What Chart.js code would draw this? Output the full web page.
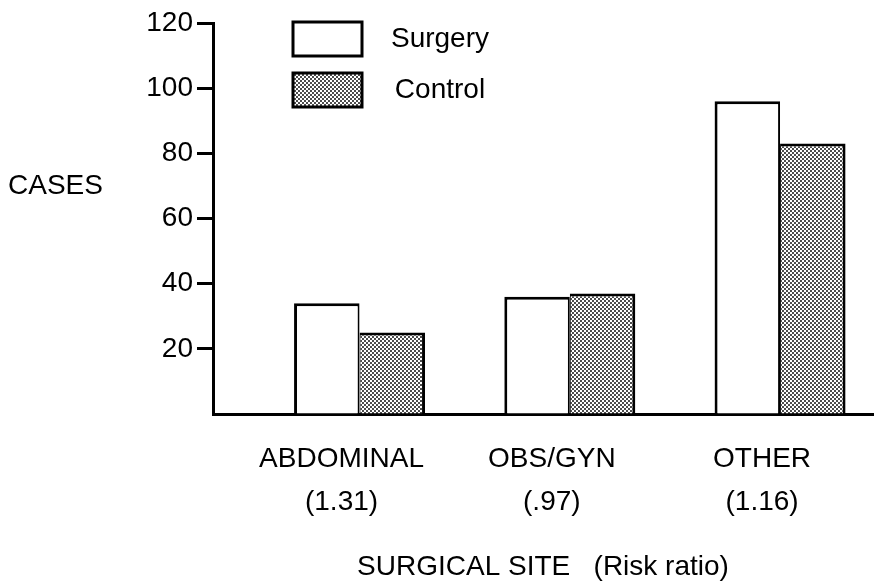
<!DOCTYPE html>
<html>
<head>
<meta charset="utf-8">
<script src="https://cdn.jsdelivr.net/npm/chart.js@4/dist/chart.umd.min.js"></script>
<style>html,body{margin:0;padding:0;background:#fff;}canvas{display:block;}</style>
</head>
<body>
<canvas id="c" width="874" height="586"></canvas>
<script>
// ---- data ----
const CATEGORIES = ['ABDOMINAL', 'OBS/GYN', 'OTHER'];
const RISK_RATIOS = ['(1.31)', '(.97)', '(1.16)'];
const SERIES_NAMES = ['Surgery', 'Control'];
const SURGERY = [34, 36, 96];
const CONTROL = [25, 37, 83];
const Y_TICKS = [0, 20, 40, 60, 80, 100, 120];
const Y_TITLE = 'CASES';
const X_TITLE = 'SURGICAL SITE   (Risk ratio)';

const FONT = "'Liberation Sans', Arial, Helvetica, sans-serif";

const ctx = document.getElementById('c').getContext('2d');
const DOTS = ctx.createPattern((function(){
  const c = document.createElement('canvas');
  c.width = 4; c.height = 4;
  const g = c.getContext('2d');
  g.fillStyle = '#fff'; g.fillRect(0, 0, 4, 4);
  g.fillStyle = '#000';
  g.beginPath(); g.arc(1, 1, 0.95, 0, Math.PI * 2); g.fill();
  g.beginPath(); g.arc(3, 3, 0.95, 0, Math.PI * 2); g.fill();
  return c;
})(), 'repeat');

Chart.defaults.color = '#000';
Chart.defaults.font.family = FONT;

const legendPlacer = {
  id: 'legendPlacer',
  afterLayout(chart) {
    const lg = chart.legend, ca = chart.chartArea;
    const pad = lg.options.labels.padding;
    lg.left = ca.left + 80 - pad;
    lg.top = ca.top - 1 - pad;
    lg.right = ca.left + 291;
    lg.bottom = chart.height;
    lg.width = lg.right - lg.left;
    lg.height = lg.bottom - lg.top;
  }
};

const yTitle = {
  id: 'yTitle',
  afterDraw(chart) {
    const c = chart.ctx;
    c.save();
    c.font = '28px ' + FONT;
    c.fillStyle = '#000';
    c.textBaseline = 'middle';
    c.textAlign = 'left';
    c.fillText(Y_TITLE, 8, chart.scales.y.getPixelForValue(70));
    c.restore();
  }
};

new Chart(ctx, {
  type: 'bar',
  data: {
    datasets: [
      {
        label: SERIES_NAMES[0],
        data: SURGERY.map((v, i) => ({ x: i, y: v })),
        backgroundColor: '#fff',
        borderColor: '#000',
        borderWidth: { top: 3, left: 3, right: 2, bottom: 0 },
        borderSkipped: 'bottom'
      },
      {
        label: SERIES_NAMES[1],
        data: CONTROL.map((v, i) => ({ x: i, y: v })),
        backgroundColor: DOTS,
        borderColor: '#000',
        borderWidth: { top: 3, left: 1, right: 3, bottom: 0 },
        borderSkipped: 'bottom'
      }
    ]
  },
  options: {
    responsive: false,
    animation: false,
    devicePixelRatio: 1,
    layout: { padding: { top: 23, right: 1, left: 0, bottom: 0 } },
    datasets: { bar: { categoryPercentage: 0.623, barPercentage: 1.0 } },
    plugins: {
      tooltip: { enabled: false },
      legend: {
        position: 'chartArea',
        align: 'start',
        labels: {
          boxWidth: 69,
          boxHeight: 34,
          padding: 17,
          textAlign: 'center',
          font: { size: 28 },
          generateLabels(chart) {
            return Chart.defaults.plugins.legend.labels.generateLabels(chart).map(l => Object.assign(l, { lineWidth: 3, strokeStyle: '#000' }));
          }
        }
      }
    },
    scales: {
      x: {
        type: 'linear',
        offset: false,
        min: -0.697,
        max: 2.442,
        afterFit(s) { s.height = 172; },
        afterBuildTicks(s) { s.ticks = CATEGORIES.map((_, i) => ({ value: i })); },
        grid: { display: true, drawOnChartArea: false, drawTicks: false },
        border: { display: true, color: '#000', width: 3 },
        ticks: {
          autoSkip: false,
          maxRotation: 0,
          padding: 24,
          labelOffset: -18,
          font: { size: 28, lineHeight: 1.53 },
          callback: (v) => Number.isInteger(v) ? [CATEGORIES[v], RISK_RATIOS[v]] : ''
        },
        title: {
          display: true,
          text: X_TITLE,
          font: { size: 28 },
          padding: { top: 0, bottom: 2 }
        }
      },
      y: {
        min: 0,
        max: 120,
        afterFit(s) { s.width = 213; },
        afterBuildTicks(s) { s.ticks = Y_TICKS.map(v => ({ value: v })); },
        grid: {
          drawOnChartArea: false,
          drawTicks: true,
          tickLength: 16,
          tickWidth: 3,
          tickColor: (c) => (c.tick && c.tick.value === 0) ? 'rgba(0,0,0,0)' : '#000'
        },
        border: { display: true, color: '#000', width: 3 },
        ticks: {
          padding: 4,
          font: { size: 28 },
          callback: (v) => v === 0 ? '' : String(v)
        }
      }
    }
  },
  plugins: [legendPlacer, yTitle]
});
</script>
</body>
</html>
